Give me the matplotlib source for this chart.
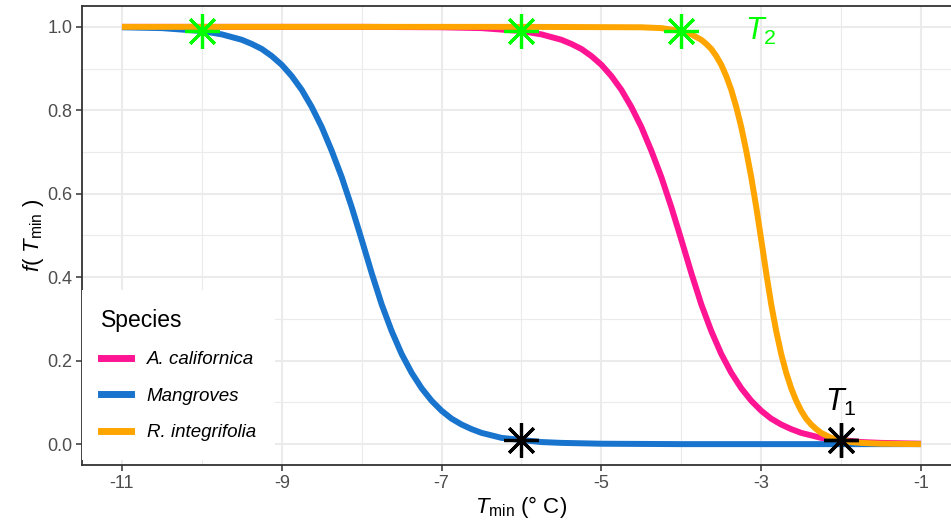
"""
Curvas de respuesta f(T_min) por especie, con los umbrales T1 / T2 marcados.
Genera out.png
"""

import matplotlib.pyplot as plt
from matplotlib.lines import Line2D
from matplotlib.ticker import MultipleLocator

# ---------------------------------------------------------------------------
# Datos
# ---------------------------------------------------------------------------

species = ["A. californica", "Mangroves", "R. integrifolia"]

# A. californica
x_acal = [-11, -8, -7, -6.5, -6, -5.75, -5.5, -5.375, -5.25, -5.125, -5,
          -4.875, -4.75, -4.625, -4.5, -4.375, -4.25, -4.125, -4, -3.875,
          -3.75, -3.625, -3.5, -3.375, -3.25, -3.125, -3, -2.875, -2.75,
          -2.625, -2.5, -2.25, -2, -1.75, -1.5, -1]
f_acal = [1.000, 1.000, 0.999, 0.997, 0.990, 0.982, 0.969, 0.959, 0.947, 0.930,
          0.909, 0.882, 0.849, 0.808, 0.760, 0.703, 0.640, 0.568, 0.490, 0.410,
          0.335, 0.271, 0.216, 0.171, 0.134, 0.104, 0.080, 0.061, 0.047, 0.036,
          0.027, 0.015, 0.010, 0.005, 0.003, 0.001]

# Mangroves
x_mang = [-11, -10.5, -10, -9.75, -9.5, -9.375, -9.25, -9.125, -9, -8.875,
          -8.75, -8.625, -8.5, -8.375, -8.25, -8.125, -8, -7.875, -7.75,
          -7.625, -7.5, -7.375, -7.25, -7.125, -7, -6.875, -6.75, -6.625,
          -6.5, -6.25, -6, -5.75, -5.5, -5, -4, -3, -2, -1]
f_mang = [0.999, 0.997, 0.990, 0.982, 0.969, 0.959, 0.947, 0.930, 0.909, 0.882,
          0.849, 0.808, 0.760, 0.703, 0.640, 0.568, 0.490, 0.410, 0.335, 0.271,
          0.216, 0.171, 0.134, 0.104, 0.080, 0.061, 0.047, 0.036, 0.027, 0.015,
          0.010, 0.005, 0.003, 0.001, 0.000, 0.000, 0.000, 0.000]

# R. integrifolia
x_rint = [-11, -6, -4.5, -4.25, -4, -3.875, -3.75, -3.6875, -3.625, -3.5625,
          -3.5, -3.4375, -3.375, -3.3125, -3.25, -3.1875, -3.125, -3.0625, -3,
          -2.9375, -2.875, -2.8125, -2.75, -2.6875, -2.625, -2.5625, -2.5,
          -2.4375, -2.375, -2.3125, -2.25, -2.125, -2, -1.875, -1.75, -1.5, -1]
f_rint = [1.000, 1.000, 0.999, 0.997, 0.990, 0.982, 0.969, 0.959, 0.947, 0.930,
          0.909, 0.882, 0.849, 0.808, 0.760, 0.703, 0.640, 0.568, 0.490, 0.410,
          0.335, 0.271, 0.216, 0.171, 0.134, 0.104, 0.080, 0.061, 0.047, 0.036,
          0.027, 0.015, 0.010, 0.005, 0.003, 0.001, 0.000]

# Umbrales por especie (mismo orden que `species`)
T1 = [-2, -6, -2]
T2 = [-6, -10, -4]
f_T1 = [0.01, 0.01, 0.01]
f_T2 = [0.99, 0.99, 0.99]

# Etiquetas de los umbrales
lab_T1 = (-2, 0.10)
lab_T2 = (-3, 0.99)

x_ticks = [-11, -9, -7, -5, -3, -1]
y_ticks = [0.0, 0.2, 0.4, 0.6, 0.8, 1.0]

colors = {"A. californica": "#FF1493",
          "Mangroves": "#1874CD",
          "R. integrifolia": "#FFA500"}
curves = {"A. californica": (x_acal, f_acal),
          "Mangroves": (x_mang, f_mang),
          "R. integrifolia": (x_rint, f_rint)}

# ---------------------------------------------------------------------------
# Estilo
# ---------------------------------------------------------------------------

plt.rcParams["font.family"] = ["Liberation Sans", "DejaVu Sans"]
plt.rcParams["mathtext.fontset"] = "custom"
plt.rcParams["mathtext.rm"] = "Liberation Sans"
plt.rcParams["mathtext.it"] = "Liberation Sans:italic"
plt.rcParams["axes.unicode_minus"] = False

GRID = "#EBEBEB"
BORDER = "#333333"
GREEN = "#00FF00"

fig = plt.figure(figsize=(9.51, 5.29), dpi=100)
# el panel se extiende un poco más allá del borde derecho de la figura
ax = fig.add_axes([82 / 951, 64 / 529, 879 / 951, 459 / 529])

ax.set_xlim(-11.5, -0.5)
ax.set_ylim(-0.05, 1.05)
ax.set_xticks(x_ticks)
ax.set_yticks(y_ticks)
ax.set_yticklabels([f"{v:.1f}" for v in y_ticks])
ax.xaxis.set_minor_locator(MultipleLocator(1))
ax.yaxis.set_minor_locator(MultipleLocator(0.1))

ax.grid(which="major", color=GRID, lw=1.5)
ax.grid(which="minor", color=GRID, lw=0.8)
ax.set_axisbelow(True)
ax.tick_params(which="minor", length=0)
ax.tick_params(which="major", length=4, width=1.1, color=BORDER,
               labelsize=13, labelcolor="#4D4D4D", pad=3)
for sp in ax.spines.values():
    sp.set_color(BORDER)
    sp.set_linewidth(1.3)

# ---------------------------------------------------------------------------
# Curvas y umbrales
# ---------------------------------------------------------------------------

handles = []
for sp_name in species:
    xs, fs = curves[sp_name]
    ax.plot(xs, fs, color=colors[sp_name], lw=4.3, solid_joinstyle="round",
            solid_capstyle="butt", zorder=3)
    handles.append(Line2D([], [], color=colors[sp_name], lw=5, label=sp_name))

star = (8, 2, 0)
ax.plot(T2, f_T2, ls="none", marker=star, ms=25, mew=2.3,
        color=GREEN, mec=GREEN, zorder=4)
ax.plot(T1, f_T1, ls="none", marker=star, ms=25, mew=2.3,
        color="black", mec="black", zorder=4)

ax.text(*lab_T2, r"$T_{2}$", color=GREEN, fontsize=22,
        ha="center", va="center")
ax.text(*lab_T1, r"$T_{1}$", color="black", fontsize=22,
        ha="center", va="center")

ax.set_xlabel(r"$T_{\mathrm{min}}$ (° C)", fontsize=16, labelpad=2)
ax.set_ylabel(r"$f(\ T_{\mathrm{min}}\ )$", fontsize=16, labelpad=1)

leg = ax.legend(handles=handles, title="Species", loc="lower left",
                bbox_to_anchor=(0, 0.011), borderaxespad=0, fontsize=13.5,
                title_fontsize=16.5, alignment="left", frameon=True,
                fancybox=False, framealpha=1, edgecolor="none",
                facecolor="white", handlelength=1.6, handletextpad=0.85,
                borderpad=1.0, labelspacing=1.03)
for t in leg.get_texts():
    t.set_fontstyle("italic")

fig.savefig("out.png", dpi=100)
